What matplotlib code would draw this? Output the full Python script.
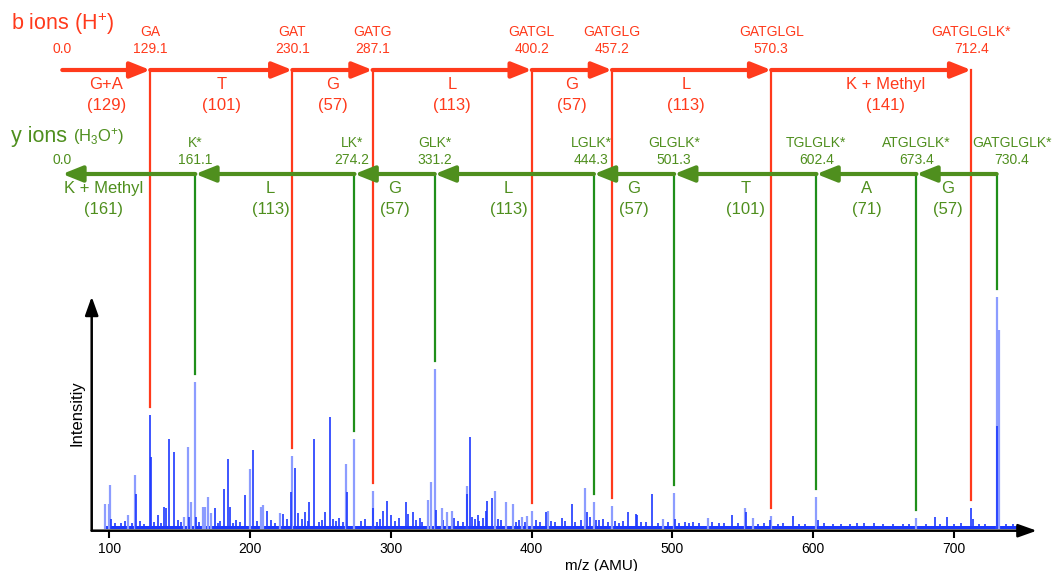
import numpy as np
import matplotlib.pyplot as plt

plt.rcParams['font.family'] = ['Liberation Sans', 'DejaVu Sans']
plt.rcParams['mathtext.fontset'] = 'custom'
plt.rcParams['mathtext.rm'] = 'Liberation Sans'
plt.rcParams['mathtext.it'] = 'Liberation Sans:italic'

# spectrum peaks (m/z, relative intensity)
light_mz = [97.0, 99.8, 100.8, 113.6, 118.2, 153.3, 155.8, 158.0, 161.1, 166.5, 168.0,
            170.0, 172.0, 200.0, 207.6, 209.2, 221.4, 230.1, 268.2, 274.2, 287.1,
            326.7, 328.4, 331.2, 336.2, 340.0, 343.3, 354.4, 374.0, 381.7, 386.6,
            393.0, 396.5, 400.2, 411.9, 438.2, 444.3, 457.2, 493.2, 501.3, 525.6,
            551.7, 557.1, 570.3, 602.4, 673.4, 730.4, 731.2, 731.8]
light_int = [11.4, 11.4, 19.4, 6.7, 23.6, 6.0, 35.9, 12.3, 63.7, 10.3, 10.3,
             14.4, 7.5, 26.2, 10.3, 10.8, 7.4, 32.1, 28.4, 39.2, 17.1,
             13.0, 20.8, 69.0, 9.6, 8.0, 8.5, 18.9, 17.1, 12.2, 11.4,
             6.0, 6.2, 8.4, 8.5, 18.1, 12.2, 10.6, 5.1, 16.2, 5.5,
             9.8, 5.5, 6.3, 14.5, 5.6, 100.0, 85.8, 85.8]

dark_mz = [101.5, 118.8, 129.1, 129.6, 134.5, 139.2, 140.2, 142.6, 146.2, 156.5, 161.8,
           174.8, 181.6, 184.0, 185.8, 196.6, 202.1, 212.2, 223.2, 229.4, 231.8,
           234.3, 239.0, 242.1, 245.7, 253.3, 256.8, 268.8, 287.6, 294.7, 297.6,
           300.5, 310.6, 312.0, 315.6, 320.5, 332.4, 353.9, 356.3, 357.9, 361.7,
           365.5, 367.4, 368.7, 371.7, 403.5, 410.2, 421.4, 428.7, 435.0, 439.1,
           441.5, 446.0, 459.0, 468.3, 473.9, 475.2, 485.6, 502.2, 515.0, 528.0,
           542.2, 552.2, 569.6, 585.6, 603.3, 631.0, 643.0, 686.6, 695.4, 712.4,
           713.5, 730.7]
dark_int = [5.0, 15.7, 49.4, 31.6, 6.7, 10.3, 9.5, 39.2, 33.8, 6.0, 6.0,
            9.6, 18.0, 30.5, 10.3, 15.3, 34.6, 8.5, 7.1, 16.4, 26.7,
            7.7, 8.1, 12.1, 39.2, 8.1, 48.7, 16.4, 9.5, 8.4, 12.8,
            6.5, 12.1, 7.0, 7.8, 5.5, 8.8, 15.7, 40.2, 5.9, 6.7,
            5.5, 8.5, 12.7, 14.1, 4.5, 8.1, 5.3, 11.4, 4.5, 8.1,
            5.8, 4.5, 4.2, 8.1, 7.0, 6.5, 15.7, 4.8, 3.8, 3.8,
            6.7, 8.0, 4.5, 6.3, 4.5, 3.5, 3.5, 6.0, 5.7, 9.8,
            4.8, 44.9]

noise_mz = [104, 108, 111, 116, 122, 125, 132, 137, 149, 151, 164, 177, 179, 188, 190,
            193, 205, 215, 218, 226, 237, 241, 249, 251, 259, 261, 263, 266, 279, 282,
            290, 292, 303, 306, 318, 322, 337, 345, 348, 351, 360, 363, 376, 378, 389,
            391, 395, 406, 414, 417, 424, 431, 448, 451, 454, 462, 465, 478, 481, 490,
            497, 505, 509, 512, 519, 533, 537, 547, 561, 565, 575, 579, 590, 594, 608,
            614, 620, 626, 636, 650, 657, 664, 668, 680, 690, 700, 705, 718, 722, 737, 742]
noise_int = [3.5, 3.2, 4.0, 3.4, 4.2, 3.0, 3.8, 3.3, 4.5, 3.6, 3.9, 3.4, 4.1, 3.2, 4.4,
             3.6, 4.0, 4.6, 3.5, 4.8, 5.2, 4.1, 3.9, 4.4, 5.0, 4.2, 5.5, 3.8, 4.3, 5.1,
             3.7, 4.9, 4.0, 5.3, 4.6, 3.9, 4.7, 5.4, 4.2, 3.8, 4.9, 4.1, 5.0, 4.4, 3.9,
             4.6, 3.7, 3.9, 4.3, 3.6, 4.0, 3.8, 4.4, 4.9, 3.7, 3.5, 4.1, 3.6, 3.9, 3.4,
             3.8, 3.3, 3.6, 3.2, 3.5, 3.1, 3.4, 3.2, 3.0, 3.3, 2.9, 3.2, 3.0, 2.8, 3.1,
             2.9, 3.0, 2.8, 3.1, 2.7, 2.9, 3.0, 2.8, 2.9, 3.0, 2.8, 3.1, 2.9, 2.7, 2.9, 2.8]
floor_from, floor_to, floor_level = 97, 747, 2.2

# b ion ladder
b_names = ['', 'GA', 'GAT', 'GATG', 'GATGL', 'GATGLG', 'GATGLGL', 'GATGLGLK*']
b_mass = [0.0, 129.1, 230.1, 287.1, 400.2, 457.2, 570.3, 712.4]
b_res = ['G+A', 'T', 'G', 'L', 'G', 'L', 'K + Methyl']
b_res_mass = [129, 101, 57, 113, 57, 113, 141]

# y ion ladder
y_names = ['', 'K*', 'LK*', 'GLK*', 'LGLK*', 'GLGLK*', 'TGLGLK*', 'ATGLGLK*', 'GATGLGLK*']
y_mass = [0.0, 161.1, 274.2, 331.2, 444.3, 501.3, 602.4, 673.4, 730.4]
y_res = ['K + Methyl', 'L', 'G', 'L', 'G', 'T', 'A', 'G']
y_res_mass = [161, 113, 57, 113, 57, 101, 71, 57]

# label nudges (m/z units)
b_res_shift = [0, 0, 0, 0, 0, -4, 10]
y_res_shift = [-18, -3, 0, -4, 0, 0, 0, -6]
y_name_shift = [0, 0, -2, 0, -2, 0, 0, 0, 11]

red = '#ff3a1c'
green_txt = '#4f8f1e'
green_line = '#1f8f1a'
light_blue = '#8c9cff'
dark_blue = '#1c38ff'

W, H = 1053, 571
fig = plt.figure(figsize=(W / 100, H / 100), dpi=100)
ax = fig.add_axes([91.7 / W, 40.3 / H, 945 / W, 234 / H])
ax.set_xlim(87.5, 758.9)
ax.set_ylim(0, 100)

def row(py):
    # pixel row of the picture -> y in data units of the spectrum axes
    return (530.7 - py) / 2.34

zero_x = 66.6  # where the 0.0 end of the ladders sits, left of the axis

# spectrum
ax.fill_between([floor_from, floor_to], 0.9, floor_level, color=dark_blue, lw=0)
ax.vlines(noise_mz, 0.9, noise_int, color=dark_blue, lw=1.2)
ax.vlines(light_mz, 0.9, light_int, color=light_blue, lw=1.6)
ax.vlines(dark_mz, 0.9, dark_int, color=dark_blue, lw=1.2)

all_mz = np.array(light_mz + dark_mz)
all_int = np.array(light_int + dark_int)

def peak_top(m):
    near = np.abs(all_mz - m) < 0.8
    return all_int[near].max()

gap = 3.4

# axes with arrows
ax.spines[:].set_visible(False)
ax.annotate('', xy=(1.0, 0), xytext=(0, 0), xycoords='axes fraction',
            arrowprops=dict(arrowstyle='-|>,head_length=0.7,head_width=0.25', color='k',
                            lw=1.8, shrinkA=0, shrinkB=0, mutation_scale=16))
ax.annotate('', xy=(0, 1.0), xytext=(0, 0), xycoords='axes fraction',
            arrowprops=dict(arrowstyle='-|>,head_length=0.7,head_width=0.25', color='k',
                            lw=1.8, shrinkA=0, shrinkB=0, mutation_scale=16))
ax.set_xticks([100, 200, 300, 400, 500, 600, 700])
ax.set_yticks([])
ax.tick_params(axis='x', direction='out', length=5, width=1.5, labelsize=10, pad=3)
ax.text(450, row(566), 'm/z (AMU)', ha='center', va='center', fontsize=11)
ax.text(76.8, row(413), 'Intensitiy', ha='center', va='center', rotation=90, fontsize=12)

def arrow(x0, x1, y, color):
    ax.annotate('', xy=(x1, y), xytext=(x0, y),
                arrowprops=dict(arrowstyle='-|>,head_length=0.75,head_width=0.3', color=color,
                                lw=3, shrinkA=0, shrinkB=0, mutation_scale=16),
                annotation_clip=False)

# b ions
b_row = row(70)
b_x = [zero_x] + b_mass[1:]
for i in range(1, len(b_x)):
    arrow(b_x[i - 1], b_x[i], b_row, red)
    mid = (b_x[i - 1] + b_x[i]) / 2 + b_res_shift[i - 1]
    ax.text(mid, row(85), b_res[i - 1], color=red, ha='center', va='center', fontsize=12, clip_on=False)
    ax.text(mid, row(106), '(%d)' % b_res_mass[i - 1], color=red, ha='center', va='center',
            fontsize=12, clip_on=False)
    ax.plot([b_x[i], b_x[i]], [b_row, peak_top(b_x[i]) + gap], color=red, lw=1.6, clip_on=False)
for x, n, m in zip(b_x, b_names, b_mass):
    ax.text(x, row(32), n, color=red, ha='center', va='center', fontsize=10, clip_on=False)
    ax.text(x, row(49), '%.1f' % m, color=red, ha='center', va='center', fontsize=10, clip_on=False)

# y ions
y_row = row(174)
y_x = [zero_x] + y_mass[1:]
for i in range(1, len(y_x)):
    arrow(y_x[i], y_x[i - 1], y_row, green_txt)
    mid = (y_x[i - 1] + y_x[i]) / 2 + y_res_shift[i - 1]
    ax.text(mid, row(189), y_res[i - 1], color=green_txt, ha='center', va='center', fontsize=12, clip_on=False)
    ax.text(mid, row(210), '(%d)' % y_res_mass[i - 1], color=green_txt, ha='center', va='center',
            fontsize=12, clip_on=False)
    ax.plot([y_x[i], y_x[i]], [y_row, peak_top(y_x[i]) + gap], color=green_line, lw=1.6, clip_on=False)
for x, n, m, s in zip(y_x, y_names, y_mass, y_name_shift):
    ax.text(x + s, row(143), n, color=green_txt, ha='center', va='center', fontsize=10, clip_on=False)
    ax.text(x + s, row(160), '%.1f' % m, color=green_txt, ha='center', va='center', fontsize=10, clip_on=False)

fig.text(11 / W, 1 - 24 / H, r'b ions (H$^{+}$)', color=red, fontsize=15.5, ha='left', va='center')
fig.text(11 / W, 1 - 136 / H, 'y ions', color=green_txt, fontsize=15.5, ha='left', va='center')
fig.text(73 / W, 1 - 136 / H, r'(H$_{3}$O$^{+}$)', color=green_txt, fontsize=12, ha='left', va='center')

fig.savefig('out.png', dpi=100)
